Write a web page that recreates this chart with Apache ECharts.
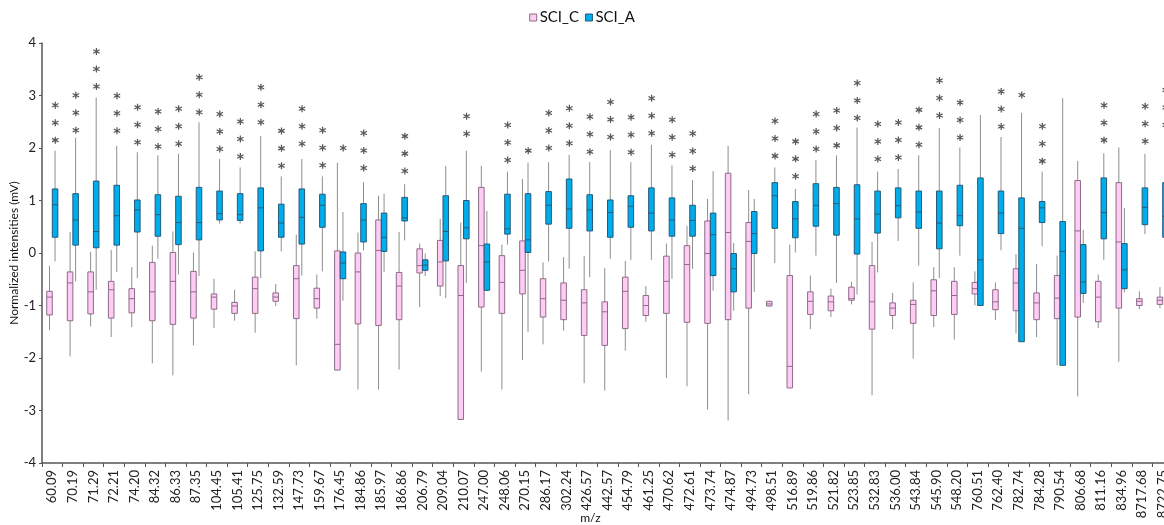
<!DOCTYPE html>
<html>
<head>
<meta charset="utf-8">
<script src="https://cdn.jsdelivr.net/npm/echarts@6/dist/echarts.min.js"></script>
<style>
html,body{margin:0;padding:0;background:#fff;}
#chart{width:1164px;height:525px;}
</style>
</head>
<body>
<div id="chart"></div>
<script>
// ---------- data ----------
const categories = ['60.09','70.19','71.29','72.21','74.20','84.32','86.33','87.35','104.45','105.41','125.75','132.59','147.73','159.67','176.45','184.86','185.97','186.86','206.79','209.04','210.07','247.00','248.06','270.15','286.17','302.24','426.57','442.57','454.79','461.25','470.62','472.61','473.74','474.87','494.73','498.51','516.89','519.86','521.82','523.85','532.83','536.00','543.84','545.90','548.20','760.51','762.40','782.74','784.28','790.54','806.68','811.16','834.96','8717.68','8722.75'];

// [min, Q1, median, Q3, max]
const sciC = [
  [-1.47,-1.18,-0.84,-0.73,-0.24],
  [-1.97,-1.29,-0.57,-0.36,0.40],
  [-1.40,-1.16,-0.74,-0.36,0.02],
  [-1.60,-1.24,-0.70,-0.54,0.06],
  [-1.41,-1.14,-0.87,-0.68,-0.27],
  [-2.10,-1.29,-0.74,-0.18,0.14],
  [-2.33,-1.36,-0.54,0.01,0.41],
  [-1.76,-1.24,-0.74,-0.35,0.01],
  [-1.43,-1.07,-0.84,-0.78,-0.49],
  [-1.29,-1.15,-1.01,-0.94,-0.70],
  [-1.52,-1.15,-0.68,-0.46,0.03],
  [-1.01,-0.92,-0.84,-0.76,-0.59],
  [-2.14,-1.25,-0.49,-0.24,0.35],
  [-1.25,-1.05,-0.87,-0.67,-0.41],
  [-2.23,-2.23,-1.74,0.04,1.72],
  [-2.60,-1.35,-0.36,0.00,0.39],
  [-2.60,-1.38,0.05,0.63,1.09],
  [-2.22,-1.27,-0.63,-0.37,0.40],
  [-1.03,-0.38,-0.24,0.08,0.18],
  [-0.82,-0.63,-0.17,0.24,0.65],
  [-3.17,-3.17,-0.81,-0.24,0.58],
  [-2.26,-1.03,0.14,1.25,1.66],
  [-2.60,-1.15,-0.56,-0.05,0.16],
  [-2.04,-0.78,-0.33,0.23,1.41],
  [-1.74,-1.22,-0.87,-0.49,-0.18],
  [-1.48,-1.27,-0.90,-0.57,-0.08],
  [-2.48,-1.57,-0.95,-0.70,-0.06],
  [-2.62,-1.76,-1.12,-0.93,-0.29],
  [-1.86,-1.44,-0.73,-0.46,-0.15],
  [-1.31,-1.19,-1.00,-0.81,-0.63],
  [-2.38,-1.15,-0.54,-0.06,0.18],
  [-2.54,-1.32,-0.22,0.14,0.52],
  [-2.98,-1.34,-0.01,0.61,1.03],
  [-3.19,-1.27,0.39,1.52,2.04],
  [-2.69,-1.05,0.22,0.58,1.20],
  [-1.02,-1.01,-0.97,-0.92,-0.91],
  [-2.57,-2.57,-2.16,-0.43,0.16],
  [-1.45,-1.17,-0.92,-0.74,-0.43],
  [-1.22,-1.10,-0.93,-0.82,-0.68],
  [-0.98,-0.90,-0.87,-0.65,-0.55],
  [-2.71,-1.45,-0.93,-0.24,0.21],
  [-1.45,-1.19,-1.05,-0.95,-0.76],
  [-2.01,-1.34,-0.98,-0.90,-0.56],
  [-1.41,-1.19,-0.72,-0.51,-0.27],
  [-1.65,-1.17,-0.81,-0.54,-0.27],
  [-1.00,-0.78,-0.68,-0.56,-0.35],
  [-1.28,-1.08,-0.93,-0.70,-0.56],
  [-1.53,-1.10,-0.57,-0.30,-0.02],
  [-1.60,-1.27,-0.95,-0.76,-0.21],
  [-2.14,-1.25,-0.86,-0.43,-0.05],
  [-2.73,-1.22,0.42,1.38,1.75],
  [-1.43,-1.31,-0.84,-0.54,-0.41],
  [-2.07,-1.05,0.21,1.34,2.01],
  [-1.07,-1.00,-0.92,-0.87,-0.73],
  [-1.05,-0.98,-0.90,-0.84,-0.65]
];

const sciA = [
  [-0.16,0.30,0.92,1.22,1.95],
  [-0.54,0.15,0.63,1.13,2.20],
  [-0.70,0.10,0.41,1.37,2.96],
  [-0.36,0.15,0.71,1.29,2.04],
  [-0.48,0.40,0.82,1.01,1.92],
  [-0.11,0.32,0.73,1.11,1.86],
  [-0.41,0.16,0.58,1.08,1.89],
  [-0.44,0.25,0.58,1.25,2.49],
  [0.56,0.63,0.75,1.18,1.79],
  [0.56,0.62,0.73,1.13,1.63],
  [-0.48,0.04,0.86,1.24,2.23],
  [0.03,0.30,0.57,0.93,1.46],
  [-0.43,0.17,0.68,1.22,1.79],
  [-0.35,0.49,0.91,1.12,1.46],
  [-0.91,-0.49,-0.19,0.02,0.78],
  [0.05,0.21,0.63,0.94,1.35],
  [-0.36,0.03,0.30,0.76,1.13],
  [0.24,0.61,0.67,1.06,1.31],
  [-0.44,-0.33,-0.23,-0.13,-0.01],
  [-0.86,-0.15,0.41,1.09,1.66],
  [-0.57,0.27,0.48,1.00,1.95],
  [-0.72,-0.71,-0.17,0.17,0.80],
  [0.16,0.36,0.46,1.12,1.55],
  [-1.50,0.01,0.25,1.13,1.72],
  [-0.16,0.55,0.91,1.17,1.73],
  [-0.30,0.47,0.84,1.41,1.87],
  [-0.46,0.42,0.82,1.11,1.73],
  [-0.11,0.30,0.77,1.01,1.96],
  [-0.13,0.49,0.89,1.09,1.73],
  [-0.13,0.42,0.76,1.24,2.06],
  [-0.49,0.32,0.63,1.05,1.67],
  [-0.30,0.32,0.62,0.91,1.39],
  [-0.72,-0.43,0.35,0.76,1.56],
  [-1.10,-0.74,-0.30,-0.01,0.19],
  [-0.74,-0.01,0.37,0.79,1.03],
  [-0.19,0.47,1.09,1.34,1.63],
  [0.01,0.29,0.65,0.98,1.22],
  [-0.05,0.51,0.91,1.32,1.77],
  [-0.57,0.34,0.94,1.25,1.86],
  [-0.79,-0.02,0.65,1.30,2.39],
  [-0.37,0.38,0.74,1.18,1.55],
  [0.23,0.67,0.90,1.24,1.60],
  [-0.24,0.47,0.78,1.18,1.86],
  [-0.48,0.08,0.57,1.18,2.38],
  [-0.05,0.52,0.71,1.29,2.01],
  [-1.00,-1.00,-0.13,1.43,2.63],
  [0.05,0.37,0.76,1.18,2.21],
  [-1.69,-1.69,0.47,1.05,2.67],
  [0.13,0.58,0.86,0.98,1.55],
  [-2.14,-2.14,0.03,0.60,2.95],
  [-0.95,-0.77,-0.55,0.16,0.44],
  [-0.13,0.27,0.77,1.43,1.90],
  [-0.75,-0.68,-0.32,0.18,0.86],
  [0.36,0.54,0.87,1.24,1.89],
  [0.10,0.30,0.70,1.34,1.90]
];

// significance marks: number of asterisks and height of the lowest one
const starCount = [3,3,3,3,3,3,3,3,3,3,3,3,3,3,1,3,0,3,0,0,2,0,3,1,3,3,3,3,3,3,3,3,0,0,0,3,3,3,3,3,3,3,3,3,3,0,3,1,3,0,0,3,0,3,3];
const starBase  = [2.15,2.34,3.17,2.33,2.11,2.03,2.08,2.68,1.98,1.84,2.49,1.66,2.08,1.67,2.00,1.62,0,1.56,0,0,2.27,0,1.77,1.95,2.00,2.09,1.93,2.21,1.92,2.28,1.87,1.61,0,0,0,1.85,1.46,1.98,2.05,2.57,1.79,1.82,2.06,2.62,2.20,0,2.41,3.01,1.75,0,0,2.15,0,2.13,2.44];
const starStep = 0.333;

const yTicks = { min: -4, max: 4, interval: 1 };

// ---------- styling ----------
const FONT = 'Lato, "Open Sans", sans-serif';
const pinkFill = '#FFCCF3', pinkStroke = '#8C6C88';
const blueFill = '#00ADEC', blueStroke = '#235A78';
const whiskerColor = '#8E8E8E';

function makeRender(side, fill, stroke) {
  return function (params, api) {
    const idx = api.value(0);
    const band = api.size([1, 0])[0];
    const w = band * 0.27;
    const cx = api.coord([idx, 0])[0] + side * band * 0.135;
    const yMin = api.coord([idx, api.value(1)])[1];
    const yQ1 = api.coord([idx, api.value(2)])[1];
    const yMed = api.coord([idx, api.value(3)])[1];
    const yQ3 = api.coord([idx, api.value(4)])[1];
    const yMax = api.coord([idx, api.value(5)])[1];
    return {
      type: 'group',
      children: [
        { type: 'line', shape: { x1: cx, y1: yMax, x2: cx, y2: yMin },
          style: { stroke: whiskerColor, lineWidth: 1 } },
        { type: 'rect', shape: { x: cx - w / 2, y: yQ3, width: w, height: Math.max(yQ1 - yQ3, 1) },
          style: { fill: fill, stroke: stroke, lineWidth: 1 } },
        { type: 'line', shape: { x1: cx - w / 2, y1: yMed, x2: cx + w / 2, y2: yMed },
          style: { stroke: stroke, lineWidth: 1 } }
      ]
    };
  };
}

const pinkData = categories.map((c, i) => [i].concat(sciC[i]));
const blueData = categories.map((c, i) => [i].concat(sciA[i]));
const starData = [];
categories.forEach((c, i) => {
  for (let k = 0; k < starCount[i]; k++) starData.push([i, starBase[i] + k * starStep]);
});

const asteriskPath = 'path://M-1.7,-10L1.7,-10L1.7,10L-1.7,10Z M7.81,-6.47L9.51,-3.53L-7.81,6.47L-9.51,3.53Z M-9.51,-3.53L-7.81,-6.47L9.51,3.53L7.81,6.47Z';

const chart = echarts.init(document.getElementById('chart'), null, { renderer: 'canvas' });
chart.setOption({
  animation: false,
  backgroundColor: '#ffffff',
  textStyle: { fontFamily: FONT },
  legend: {
    top: 5,
    left: 'center',
    itemWidth: 7,
    itemHeight: 7,
    itemGap: 6,
    icon: 'rect',
    textStyle: { fontFamily: FONT, fontSize: 15, color: '#111', padding: [0, 0, 0, -2] },
    data: [
      { name: 'SCI_C', itemStyle: { color: pinkFill, borderColor: pinkStroke, borderWidth: 1 } },
      { name: 'SCI_A', itemStyle: { color: blueFill, borderColor: blueStroke, borderWidth: 1 } }
    ]
  },
  grid: { left: 42, right: -9, top: 43, bottom: 62, containLabel: false, outerBoundsMode: 'none' },
  xAxis: {
    type: 'category',
    data: categories,
    boundaryGap: true,
    name: 'm/z',
    nameLocation: 'middle',
    nameGap: 49,
    nameMoveOverlap: false,
    nameTextStyle: { fontFamily: FONT, fontSize: 12, color: '#111', padding: [0, 34, 0, 0] },
    axisLine: { onZero: false, lineStyle: { color: '#555', width: 1.5 } },
    axisTick: { show: true, alignWithLabel: false, length: 4, lineStyle: { color: '#555' } },
    axisLabel: { rotate: 90, interval: 0, margin: 7, fontFamily: FONT, fontSize: 13, color: '#222' },
    splitLine: { show: false }
  },
  yAxis: {
    type: 'value',
    min: yTicks.min,
    max: yTicks.max,
    interval: yTicks.interval,
    name: 'Normalized intensities (mV)',
    nameLocation: 'middle',
    nameGap: 22,
    nameMoveOverlap: false,
    nameTextStyle: { fontFamily: FONT, fontSize: 12, color: '#111' },
    axisLine: { show: true, lineStyle: { color: '#555', width: 1.5 } },
    axisTick: { show: true, length: 3, lineStyle: { color: '#555' } },
    axisLabel: { margin: 6, fontFamily: FONT, fontSize: 13, color: '#222' },
    splitLine: { show: false }
  },
  series: [
    {
      name: 'SCI_C', type: 'custom',
      itemStyle: { color: pinkFill, borderColor: pinkStroke },
      encode: { x: 0, y: [1, 2, 3, 4, 5] },
      renderItem: makeRender(-1, pinkFill, pinkStroke),
      data: pinkData, clip: false, z: 2
    },
    {
      name: 'SCI_A', type: 'custom',
      itemStyle: { color: blueFill, borderColor: blueStroke },
      encode: { x: 0, y: [1, 2, 3, 4, 5] },
      renderItem: makeRender(1, blueFill, blueStroke),
      data: blueData, clip: false, z: 3
    },
    {
      name: 'stars', type: 'scatter',
      symbol: asteriskPath,
      symbolSize: 7,
      symbolOffset: [3, 0],
      itemStyle: { color: '#2e2e2e' },
      data: starData,
      z: 4,
      silent: true
    }
  ]
});
</script>
</body>
</html>
